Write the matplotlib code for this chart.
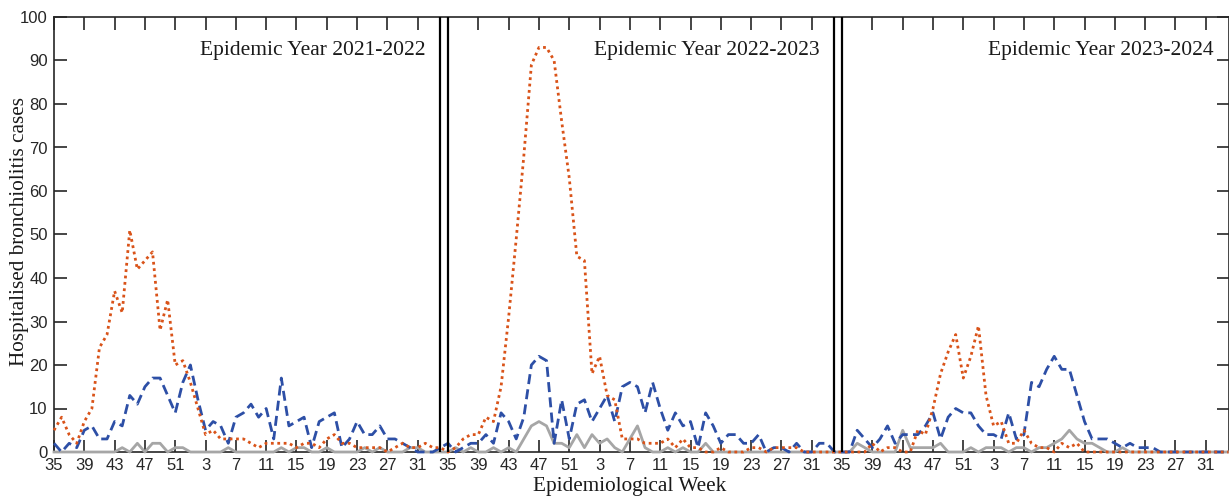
import numpy as np
import matplotlib
matplotlib.use("Agg")
import matplotlib.pyplot as plt

# weekly hospitalised bronchiolitis cases, epi week 35 -> 34, one list per epidemic year
EPI_YEARS = ["2021-2022", "2022-2023", "2023-2024"]
EPI_WEEKS = list(range(35, 53)) + list(range(1, 35))

orange_cases = [
    [5, 8, 4, 2, 7, 10, 24, 27, 37, 32, 51, 42, 44, 46, 28, 35, 20, 21, 16, 10,
     4, 5, 3, 3, 3, 3, 2, 1, 2, 2, 2, 2, 1, 2, 2, 1, 3, 4, 2, 2,
     1, 1, 1, 1, 0, 1, 2, 1, 1, 2, 1, 1],
    [0, 1, 3, 4, 4, 8, 7, 15, 31, 49, 68, 89, 93, 93, 90, 76, 63, 45, 44, 18,
     22, 13, 12, 3, 3, 3, 2, 2, 2, 3, 1, 3, 1, 1, 0, 0, 1, 0, 0, 0,
     1, 1, 0, 1, 1, 1, 1, 0, 0, 0, 0, 0],
    [0, 0, 0, 0, 2, 0, 1, 1, 0, 0, 5, 4, 10, 18, 23, 27, 17, 22, 29, 13,
     6, 7, 2, 2, 5, 2, 1, 1, 0, 2, 1, 2, 0, 0, 0, 0, 0, 0, 0, 0,
     0, 0, 0, 0, 0, 0, 0, 0, 0, 0, 0, 0],
]
blue_cases = [
    [2, 0, 2, 1, 5, 6, 3, 3, 7, 6, 13, 11, 15, 17, 17, 13, 9, 16, 20, 12,
     5, 7, 6, 2, 8, 9, 11, 8, 10, 3, 17, 6, 7, 8, 1, 7, 8, 9, 1, 3,
     7, 4, 4, 6, 3, 3, 2, 1, 0, 0, 0, 1],
    [2, 0, 1, 2, 2, 4, 2, 9, 7, 3, 8, 20, 22, 21, 2, 12, 3, 11, 12, 7,
     10, 13, 7, 15, 16, 15, 9, 16, 10, 5, 9, 6, 7, 1, 9, 6, 2, 4, 4, 2,
     2, 4, 0, 1, 1, 0, 2, 0, 0, 2, 2, 0],
    [0, 0, 5, 3, 1, 3, 6, 2, 4, 4, 4, 6, 9, 3, 8, 10, 9, 9, 6, 4,
     4, 3, 9, 3, 4, 16, 15, 19, 22, 19, 19, 13, 7, 3, 3, 3, 2, 1, 2, 1,
     1, 1, 0, 0, 0, 0, 0, 0, 0, 0, 0, 0],
]
grey_cases = [
    [0, 0, 0, 0, 0, 0, 0, 0, 0, 1, 0, 2, 0, 2, 2, 0, 1, 1, 0, 0,
     0, 0, 0, 1, 0, 0, 0, 0, 0, 0, 1, 0, 1, 1, 0, 0, 1, 0, 0, 0,
     0, 1, 0, 1, 0, 0, 0, 1, 1, 0, 0, 0],
    [0, 1, 0, 1, 0, 0, 1, 0, 1, 0, 3, 6, 7, 6, 2, 2, 1, 4, 1, 4,
     2, 3, 1, 0, 3, 6, 1, 0, 0, 1, 0, 1, 0, 0, 2, 0, 0, 0, 0, 0,
     0, 0, 0, 0, 0, 0, 0, 0, 0, 0, 0, 0],
    [0, 0, 2, 1, 0, 0, 0, 0, 5, 1, 1, 1, 1, 2, 0, 0, 0, 1, 0, 1,
     1, 1, 0, 1, 1, 0, 1, 1, 2, 3, 5, 3, 2, 2, 1, 0, 0, 1, 0, 0,
     0, 0, 0, 0, 0, 0, 0, 0, 0, 0, 0, 0],
]

NW = len(EPI_WEEKS)
x = np.arange(NW * len(EPI_YEARS))
orange = np.concatenate(orange_cases)
blue = np.concatenate(blue_cases)
grey = np.concatenate(grey_cases)

SERIF = ["Liberation Serif", "DejaVu Serif"]
SANS = ["Liberation Sans Narrow", "DejaVu Sans Condensed", "Liberation Sans"]
AX_COL = "#262626"

fig = plt.figure(figsize=(12.29, 4.98), dpi=100)
ax = fig.add_axes([54 / 1229, 1 - 452 / 498, 1174.5 / 1229, 435 / 498])

ax.plot(x, grey, color="#A6A6A6", lw=2.0, zorder=3, clip_on=False)
ax.plot(x, blue, color="#2D4FA6", lw=2.0, ls=(0, (3.6, 1.9)), zorder=4, clip_on=False)
ax.plot(x, orange, color="#D95319", lw=2.0, ls=(0, (1, 1.3)), zorder=5, clip_on=False)

# panel separators (double lines)
for p in range(1, len(EPI_YEARS)):
    ax.axvline(p * NW - 1, color="black", lw=1.6, zorder=6)
    ax.axvline(p * NW, color="black", lw=1.6, zorder=6)

for p, yr in enumerate(EPI_YEARS):
    ax.text(p * NW + 49, 92.3, "Epidemic Year " + yr, ha="right", va="center",
            fontsize=15.5, family=SERIF, color="#1a1a1a")

ax.set_xlim(0, len(x) - 1)
ax.set_ylim(0, 100)
tick_pos = np.arange(0, len(x), 4)
ax.set_xticks(tick_pos)
ax.set_xticklabels([str(EPI_WEEKS[k % NW]) for k in tick_pos])
ax.set_yticks(np.arange(0, 101, 10))

ax.tick_params(direction="in", length=9, width=1.2, color=AX_COL, labelcolor=AX_COL,
               top=True, right=True, labelsize=12)
ax.tick_params(axis="x", pad=4)
ax.tick_params(axis="y", pad=4.5)
for lab in ax.get_xticklabels() + ax.get_yticklabels():
    lab.set_family(SANS)
for s in ax.spines.values():
    s.set_linewidth(1.2)
    s.set_color(AX_COL)

ax.set_xlabel("Epidemiological Week", fontsize=15.3, family=SERIF, color="#1a1a1a")
ax.xaxis.set_label_coords(0.49, -0.057)
ax.set_ylabel("Hospitalised bronchiolitis cases", fontsize=15.3, family=SERIF, color="#1a1a1a")
ax.yaxis.set_label_coords(-0.021, 0.508)

fig.savefig("out.png", dpi=100)
